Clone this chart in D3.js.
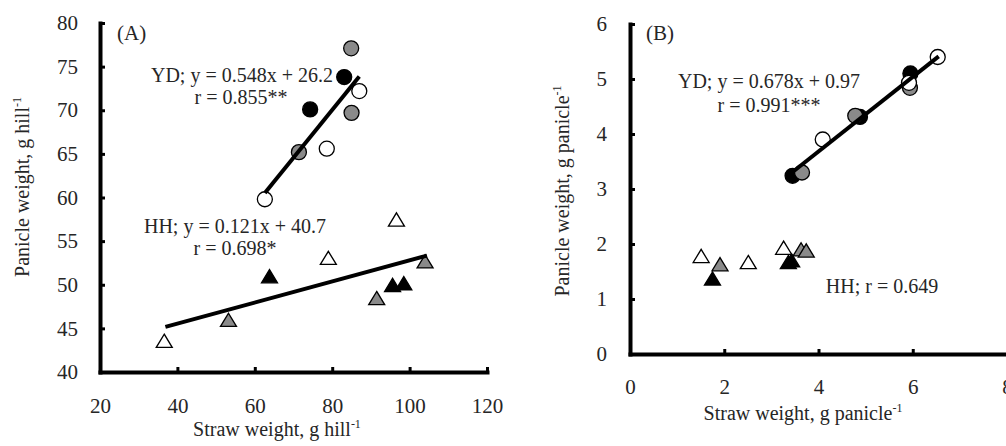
<!DOCTYPE html>
<html>
<head>
<meta charset="utf-8">
<script src="https://cdn.jsdelivr.net/npm/d3@7"></script>
<style>
  html, body { margin: 0; padding: 0; background: #fff; }
  svg { display: block; font-family: "Liberation Serif", "Times New Roman", serif; }
</style>
</head>
<body>
<svg id="chart" width="1006" height="446"></svg>
<script>
// ---------- Panel A data (per hill) ----------
const aCircleWhiteX = [87.0, 78.6, 62.6];
const aCircleWhiteY = [72.2, 65.6, 59.8];
const aCircleGrayX  = [84.9, 85.0, 71.4];
const aCircleGrayY  = [77.1, 69.7, 65.2];
const aCircleBlackX = [83.1, 74.3];
const aCircleBlackY = [73.8, 70.1];
const aTriWhiteX = [96.6, 79.0, 36.6];
const aTriWhiteY = [57.4, 53.0, 43.5];
const aTriGrayX  = [104.0, 91.5, 53.2];
const aTriGrayY  = [52.6, 48.4, 45.9];
const aTriBlackX = [63.8, 95.6, 98.5];
const aTriBlackY = [50.9, 49.9, 50.1];
const aYDfit = { slope: 0.548, intercept: 26.2, x0: 62.6, x1: 87.0 };
const aHHfit = { slope: 0.121, intercept: 40.7, x0: 36.9, x1: 104.5 };
const aXTicks = [20, 40, 60, 80, 100, 120];
const aYTicks = [40, 45, 50, 55, 60, 65, 70, 75, 80];

// ---------- Panel B data (per panicle) ----------
const bCircleWhiteX = [6.53, 5.92, 4.09];
const bCircleWhiteY = [5.40, 4.93, 3.90];
const bCircleGrayX  = [5.94, 4.78, 3.65];
const bCircleGrayY  = [4.84, 4.33, 3.30];
const bCircleBlackX = [5.95, 4.88, 3.45];
const bCircleBlackY = [5.10, 4.31, 3.24];
const bTriWhiteX = [1.51, 2.51, 3.26];
const bTriWhiteY = [1.77, 1.66, 1.92];
const bTriGrayX  = [1.91, 3.63, 3.74];
const bTriGrayY  = [1.62, 1.89, 1.87];
const bTriBlackX = [1.75, 3.36, 3.43];
const bTriBlackY = [1.36, 1.66, 1.69];
const bYDfit = { slope: 0.678, intercept: 0.97, x0: 3.45, x1: 6.55 };
const bXTicks = [0, 2, 4, 6, 8];
const bYTicks = [0, 1, 2, 3, 4, 5, 6];

const svg = d3.select("#chart");
const TXT = "#262626";
const GRAY = "#8a8a8a";

function zip(xs, ys) { return xs.map((x, i) => ({ x, y: ys[i] })); }

function drawPanel(cfg) {
  const g = svg.append("g");
  const { x, y } = cfg;

  // axes
  const xAxis = d3.axisBottom(x).tickValues(cfg.xTicks).tickSize(-5).tickSizeOuter(0).tickPadding(cfg.xPad).tickFormat(d3.format("d"));
  const yAxis = d3.axisLeft(y).tickValues(cfg.yTicks).tickSize(-5).tickSizeOuter(0).tickPadding(cfg.yPad).tickFormat(d3.format("d"));
  const gx = g.append("g").attr("transform", `translate(0,${y.range()[0]})`).call(xAxis);
  const gy = g.append("g").attr("transform", `translate(${x.range()[0]},0)`).call(yAxis);
  [gx, gy].forEach(ax => {
    ax.select(".domain").attr("stroke", "#000").attr("stroke-width", 4).attr("stroke-linecap", "square");
    ax.selectAll(".tick line").attr("stroke", "#000").attr("stroke-width", 3);
    ax.selectAll(".tick text").attr("fill", TXT).style("font-size", "21px").style("font-family", "Liberation Serif");
  });

  const m = g.append("g");
  // triangles
  const tri = d3.symbol().type(d3.symbolTriangle).size(100);
  const triSets = [
    [zip(cfg.triBlackX, cfg.triBlackY), "#000"],
    [zip(cfg.triGrayX, cfg.triGrayY), GRAY],
    [zip(cfg.triWhiteX, cfg.triWhiteY), "#fff"]
  ];
  triSets.forEach(([pts, fill]) => {
    m.selectAll(null).data(pts).enter().append("path")
      .attr("d", tri)
      .attr("transform", d => `translate(${x(d.x)},${y(d.y) + 1.5}) scale(1.05,1)`)
      .attr("fill", fill).attr("stroke", "#000").attr("stroke-width", 1.3);
  });
  const circSets = [
    [zip(cfg.cirBlackX, cfg.cirBlackY), "#000"],
    [zip(cfg.cirGrayX, cfg.cirGrayY), GRAY],
    [zip(cfg.cirWhiteX, cfg.cirWhiteY), "#fff"]
  ];
  circSets.forEach(([pts, fill]) => {
    m.selectAll(null).data(pts).enter().append("circle")
      .attr("cx", d => x(d.x)).attr("cy", d => y(d.y)).attr("r", 7.5)
      .attr("fill", fill).attr("stroke", "#000").attr("stroke-width", 1.3);
  });

  // fit lines
  cfg.fits.forEach(f => {
    g.append("line")
      .attr("x1", x(f.x0)).attr("y1", y(f.slope * f.x0 + f.intercept))
      .attr("x2", x(f.x1)).attr("y2", y(f.slope * f.x1 + f.intercept))
      .attr("stroke", "#000").attr("stroke-width", 4);
  });

  // labels
  cfg.labels.forEach(l => {
    g.append("text").attr("x", l.x).attr("y", l.y).attr("text-anchor", l.anchor || "middle")
      .attr("fill", TXT).style("font-size", (l.size || 20) + "px").text(l.t);
  });

  // axis titles
  const yt = g.append("text").attr("transform", `translate(${cfg.yTitle.x},${cfg.yTitle.y}) rotate(-90)`)
    .attr("text-anchor", "middle").attr("fill", TXT).style("font-size", "20px");
  yt.append("tspan").text(cfg.yTitle.t);
  yt.append("tspan").attr("dy", -8).style("font-size", "12px").text("-1");
  const xt = g.append("text").attr("x", cfg.xTitle.x).attr("y", cfg.xTitle.y)
    .attr("text-anchor", "middle").attr("fill", TXT).style("font-size", "20px");
  xt.append("tspan").text(cfg.xTitle.t);
  xt.append("tspan").attr("dy", -8).style("font-size", "12px").text("-1");
}

drawPanel({
  x: d3.scaleLinear().domain([20, 120]).range([100, 487]),
  y: d3.scaleLinear().domain([40, 80]).range([372, 23]),
  xTicks: aXTicks, yTicks: aYTicks, xPad: 26, yPad: 22,
  cirWhiteX: aCircleWhiteX, cirWhiteY: aCircleWhiteY,
  cirGrayX: aCircleGrayX, cirGrayY: aCircleGrayY,
  cirBlackX: aCircleBlackX, cirBlackY: aCircleBlackY,
  triWhiteX: aTriWhiteX, triWhiteY: aTriWhiteY,
  triGrayX: aTriGrayX, triGrayY: aTriGrayY,
  triBlackX: aTriBlackX, triBlackY: aTriBlackY,
  fits: [aYDfit, aHHfit],
  labels: [
    { t: "(A)", x: 117, y: 40, anchor: "start", size: 21 },
    { t: "YD; y = 0.548x + 26.2", x: 242, y: 82 },
    { t: "r = 0.855**", x: 241, y: 104 },
    { t: "HH; y = 0.121x + 40.7", x: 235, y: 233 },
    { t: "r = 0.698*", x: 235, y: 255 }
  ],
  yTitle: { t: "Panicle weight, g hill", x: 29, y: 187 },
  xTitle: { t: "Straw weight, g hill", x: 277, y: 436 }
});

drawPanel({
  x: d3.scaleLinear().domain([0, 8]).range([630, 1007]),
  y: d3.scaleLinear().domain([0, 6]).range([354, 24]),
  xTicks: bXTicks, yTicks: bYTicks, xPad: 25, yPad: 23,
  cirWhiteX: bCircleWhiteX, cirWhiteY: bCircleWhiteY,
  cirGrayX: bCircleGrayX, cirGrayY: bCircleGrayY,
  cirBlackX: bCircleBlackX, cirBlackY: bCircleBlackY,
  triWhiteX: bTriWhiteX, triWhiteY: bTriWhiteY,
  triGrayX: bTriGrayX, triGrayY: bTriGrayY,
  triBlackX: bTriBlackX, triBlackY: bTriBlackY,
  fits: [bYDfit],
  labels: [
    { t: "(B)", x: 646, y: 40, anchor: "start", size: 21 },
    { t: "YD; y = 0.678x + 0.97", x: 769, y: 88 },
    { t: "r = 0.991***", x: 769, y: 112 },
    { t: "HH; r = 0.649", x: 882, y: 293 }
  ],
  yTitle: { t: "Panicle weight, g panicle", x: 569, y: 191 },
  xTitle: { t: "Straw weight, g panicle", x: 803, y: 420 }
});
</script>
</body>
</html>
